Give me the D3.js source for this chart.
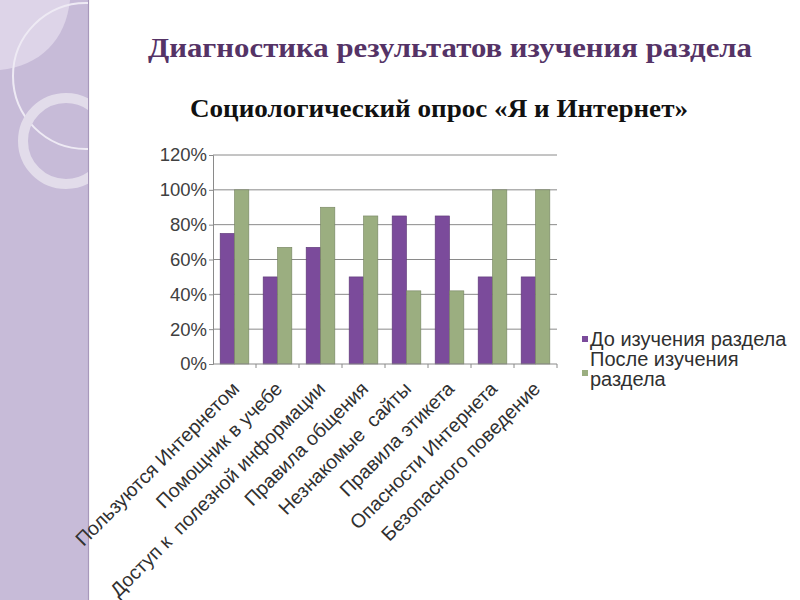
<html>
  <head>
    <meta charset="utf-8">
    <script src="https://cdn.jsdelivr.net/npm/d3@7/dist/d3.min.js"></script>
    <style>
      body { margin: 0; background: #fff; }
    </style>
  </head>
  <body>
    <svg id="container" height="600" width="800"></svg>
  </body>
  <script>
    const categories = [
      "Пользуются Интернетом",
      "Помощник в учебе",
      "Доступ к  полезной информации",
      "Правила общения",
      "Незнакомые  сайты",
      "Правила этикета",
      "Опасности Интернета",
      "Безопасного поведение"
    ];
    const seriesNames = ["До изучения раздела", "После изучения раздела"];
    const before = [0.75, 0.50, 0.67, 0.50, 0.85, 0.85, 0.50, 0.50];
    const after = [1.00, 0.67, 0.90, 0.85, 0.42, 0.42, 1.00, 1.00];
    const yTicks = [0, 0.2, 0.4, 0.6, 0.8, 1.0, 1.2];
    const colors = ["#7b4b9b", "#9bae80"];

    const svg = d3.select("#container");

    // decorative side panel (drawn first, the axis labels run over it)
    const side = svg.append("g");
    side.append("defs").append("clipPath").attr("id", "sideClip")
      .append("rect").attr("width", 88).attr("height", 600);
    side.append("rect").attr("width", 88).attr("height", 600).attr("fill", "#c7bbd8");
    side.append("line").attr("x1", 88.5).attr("x2", 88.5).attr("y1", 0).attr("y2", 600)
      .attr("stroke", "#a898bb").attr("stroke-width", 1.2);
    const deco = side.append("g").attr("clip-path", "url(#sideClip)");
    deco.append("path")
      .attr("d", "M0,0 L70,0 C66,40 40,66 0,70 Z")
      .attr("fill", "#ddd4e8");
    deco.append("circle").attr("cx", 86).attr("cy", 76).attr("r", 73)
      .attr("fill", "none").attr("stroke", "#eeeaf4").attr("stroke-width", 2);
    deco.append("circle").attr("cx", 66).attr("cy", 141).attr("r", 43)
      .attr("fill", "none").attr("stroke", "#e2dcea").attr("stroke-width", 10);

    // plot area
    const plotLeft = 213, plotRight = 557, plotTop = 155, plotBottom = 364;

    const x = d3.scaleBand().domain(categories).range([plotLeft, plotRight]).padding(0);
    const x1 = d3.scaleBand().domain([0, 1]).range([0, x.bandwidth()]).paddingInner(0).paddingOuter(0.5);
    const y = d3.scaleLinear().domain([0, 1.2]).range([plotBottom, plotTop]);

    const chart = svg.append("g");

    // gridlines
    chart.append("g")
      .selectAll("line")
      .data(yTicks.slice(1))
      .enter()
      .append("line")
      .attr("x1", plotLeft)
      .attr("x2", plotRight)
      .attr("y1", d => y(d))
      .attr("y2", d => y(d))
      .attr("stroke", "#8a8a8a")
      .attr("stroke-width", 1);

    // bars
    const rows = categories.map((c, i) => ({ cat: c, vals: [before[i], after[i]] }));
    chart.append("g")
      .selectAll("g")
      .data(rows)
      .enter()
      .append("g")
      .attr("transform", d => `translate(${x(d.cat)},0)`)
      .selectAll("rect")
      .data(d => d.vals.map((v, k) => ({ k, v })))
      .enter()
      .append("rect")
      .attr("x", d => x1(d.k))
      .attr("width", x1.bandwidth())
      .attr("y", d => y(d.v))
      .attr("height", d => y(0) - y(d.v))
      .attr("fill", d => colors[d.k])
      .attr("stroke", d => d3.color(colors[d.k]).darker(0.8))
      .attr("stroke-width", 0.6);

    // y axis
    const yAxis = chart.append("g")
      .attr("transform", `translate(${plotLeft},0)`)
      .call(d3.axisLeft(y).tickValues(yTicks).tickFormat(d3.format(".0%")).tickSize(4).tickPadding(2));
    yAxis.select(".domain").attr("stroke", "#8a8a8a");
    yAxis.selectAll(".tick line").attr("stroke", "#8a8a8a");
    yAxis.selectAll("text")
      .attr("font-family", "Liberation Sans, Arial, sans-serif")
      .attr("font-size", 18.5)
      .attr("fill", "#404040");

    // x axis
    const xAxis = chart.append("g").attr("transform", `translate(0,${plotBottom})`);
    xAxis.append("line")
      .attr("x1", plotLeft).attr("x2", plotRight)
      .attr("stroke", "#8a8a8a");
    xAxis.selectAll("line.tk")
      .data(categories)
      .enter()
      .append("line")
      .attr("class", "tk")
      .attr("x1", d => x(d) + x.bandwidth())
      .attr("x2", d => x(d) + x.bandwidth())
      .attr("y1", 0)
      .attr("y2", 4)
      .attr("stroke", "#8a8a8a");
    xAxis.selectAll("text")
      .data(categories)
      .enter()
      .append("text")
      .attr("transform", d => `translate(${x(d) + x.bandwidth() / 2 + 6},26) rotate(-45)`)
      .attr("text-anchor", "end")
      .attr("font-family", "Liberation Sans, Arial, sans-serif")
      .attr("font-size", 19.5)
      .attr("fill", "#303030")
      .style("white-space", "pre")
      .text(d => d);

    // legend
    const legend = svg.append("g").attr("font-family", "Liberation Sans, Arial, sans-serif")
      .attr("font-size", 20).attr("fill", "#303030");
    legend.append("rect").attr("x", 582).attr("y", 336).attr("width", 6).attr("height", 6).attr("fill", colors[0]);
    legend.append("text").attr("x", 590).attr("y", 346).text(seriesNames[0]);
    legend.append("rect").attr("x", 582).attr("y", 370).attr("width", 6).attr("height", 6).attr("fill", colors[1]);
    legend.append("text").attr("x", 590).attr("y", 366).text("После изучения");
    legend.append("text").attr("x", 590).attr("y", 386).text("раздела");

    // titles
    svg.append("text")
      .attr("x", 148).attr("y", 57)
      .attr("font-family", "Liberation Serif, Times New Roman, serif")
      .attr("font-weight", "bold")
      .attr("font-size", 27)
      .attr("textLength", 604)
      .attr("lengthAdjust", "spacingAndGlyphs")
      .attr("fill", "#553366")
      .text("Диагностика результатов изучения раздела");
    svg.append("text")
      .attr("x", 190).attr("y", 117)
      .attr("font-family", "Liberation Serif, Times New Roman, serif")
      .attr("font-weight", "bold")
      .attr("font-size", 25)
      .attr("textLength", 498)
      .attr("lengthAdjust", "spacingAndGlyphs")
      .attr("fill", "#111")
      .text("Социологический опрос «Я и Интернет»");
  </script>
</html>
